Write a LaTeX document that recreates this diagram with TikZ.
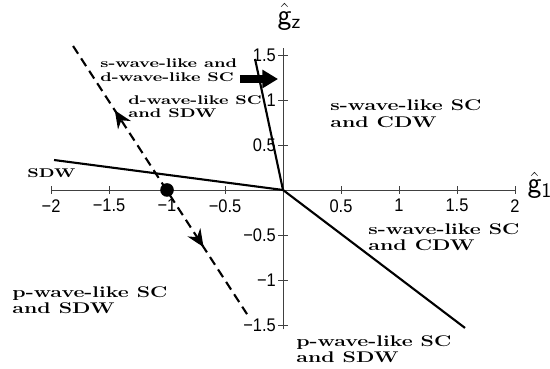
\documentclass[tikz,border=0pt]{standalone}
\usepackage{fontspec}
\newfontfamily\ticksans{Liberation Sans}
\usepackage{tikz}
\usetikzlibrary{arrows.meta, decorations.markings}

\begin{document}
\begin{tikzpicture}[
    x=2.9cm, y=2.25cm,
    axisline/.style={line width=0.6pt, black!75},
    tickmark/.style={line width=0.6pt, black!75},
    bound/.style={line width=1.5pt},
    flow/.style={line width=1.5pt, dash pattern=on 0.23cm off 0.14cm,
        postaction={decorate, decoration={markings,
            mark=at position 0.24 with {\arrowreversed{Stealth[length=4.4mm, width=3.8mm]}},
            mark=at position 0.75 with {\arrow{Stealth[length=4.4mm, width=3.8mm]}}}}},
    regionlbl/.style={align=left, inner sep=0pt, anchor=west, xscale=1.38},
    phase/.style={regionlbl, font=\fontsize{11}{11.7}\selectfont\bfseries},
    phasesmall/.style={regionlbl, font=\fontsize{9}{9.6}\selectfont\bfseries},
    ticklbl/.style={font=\fontsize{13}{13}\selectfont\ticksans, inner sep=0pt, xscale=0.9},
    axislbl/.style={font=\fontsize{21}{21}\selectfont, inner sep=0pt},
    marker/.style={circle, fill, inner sep=0pt, minimum size=3.4mm},
    pointer/.style={line width=2mm, -{Triangle[length=3.9mm, width=4.4mm]}}
]
\useasboundingbox (-2.44,-1.989) rectangle (2.302,2.111);

% axes
\coordinate (O) at (0,0);
\coordinate (xl) at (-2,0);
\coordinate (xr) at (2,0);
\coordinate (yb) at (0,-1.55);
\coordinate (yt) at (0,1.58);
\draw[axisline] (xl) -- (xr);
\draw[axisline] (yb) -- (yt);

\foreach \t/\s [count=\i] in {-2/−2, -1.5/−1.5, -1/−1, -0.5/−0.5, 0.5/0.5, 1/1, 1.5/1.5, 2/2} {
    \draw[tickmark] (\t,-0.044) -- (\t,0.044);
    \node[ticklbl, anchor=north] (xt\i) at (\t,-0.1) {\s};
}
\foreach \t/\s [count=\i] in {-1.5/−1.5, -1/−1, -0.5/−0.5, 0.5/0.5, 1/1, 1.5/1.5} {
    \draw[tickmark] (-0.043,\t) -- (0.043,\t);
    \node[ticklbl, anchor=east] (yt\i) at (-0.06,\t) {\s};
}

\node[axislbl] (gz) at (0.055,1.925) {$\hat{\mathsf{g}}_{\mathsf{z}}$};
\node[axislbl] (g1) at (2.215,0.05) {$\hat{\mathsf{g}}_{\mathsf{1}}$};

% phase boundaries
\coordinate (sdwL) at (-1.974,0.333);
\coordinate (cdwT) at (-0.241,1.456);
\coordinate (sdwR) at (1.569,-1.533);
\draw[bound] (sdwL) -- (O);
\draw[bound] (cdwT) -- (O) -- (sdwR);

% flow line
\coordinate (fA) at (-1.81,1.60);
\coordinate (fB) at (-0.31,-1.38);
\draw[flow] (fA) -- (fB);
\node[marker] (fix) at (-1,0) {};

% pointer
\coordinate (ptrS) at (-0.371,1.233);
\coordinate (ptrE) at (-0.043,1.233);
\draw[pointer] (ptrS) -- (ptrE);

% phases
\node[phasesmall] (sdlbl) at (-1.578,1.329) {s-wave-like and\\d-wave-like SC};
\node[phasesmall] (dslbl) at (-1.336,0.927) {d-wave-like SC\\and SDW};
\node[phasesmall, anchor=base west] (sdwlbl) at (-2.207,0.144) {SDW};
\node[phase] (cdwup) at (0.405,0.848) {s-wave-like SC\\and CDW};
\node[phase] (cdwlo) at (0.733,-0.524) {s-wave-like SC\\and CDW};
\node[phase] (pbot) at (0.112,-1.769) {p-wave-like SC\\and SDW};
\node[phase] (pleft) at (-2.336,-1.224) {p-wave-like SC\\and SDW};

\end{tikzpicture}
\end{document}
